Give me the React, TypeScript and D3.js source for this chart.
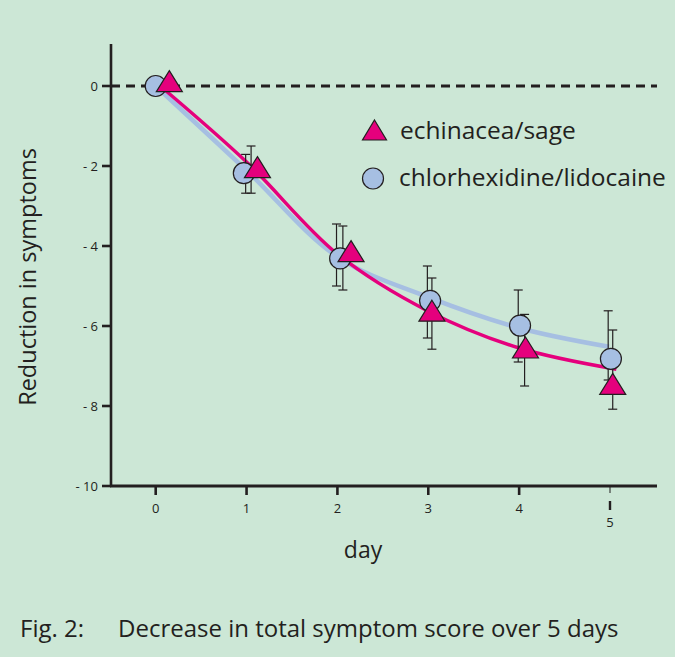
import * as d3 from 'd3';
import React, { useEffect, useRef } from 'react';

// tick labels
const xTicks = [0, 1, 2, 3, 4, 5];
const yTicks = [0, -2, -4, -6, -8, -10];
const yTickLabels = ['0', '- 2', '- 4', '- 6', '- 8', '- 10'];

// fitted curves
const echLineDays = [0.05, 1, 2, 3, 4, 5.07];
const echLineVals = [0, -1.9, -4.2, -5.63, -6.55, -7.08];
const chlLineDays = [0, 1, 2, 3, 4, 4.99];
const chlLineVals = [0, -2.11, -4.27, -5.28, -6.05, -6.52];

// markers (echinacea/sage = triangles)
const echDays = [0.15, 1.12, 2.15, 3.04, 4.07, 5.03];
const echVals = [0.11, -2.04, -4.14, -5.63, -6.55, -7.46];
const echBarDays = [1.05, 2.06, 3.04, 4.06, 5.03];
const echHi = [-1.5, -3.5, -4.8, -5.71, -6.1];
const echLo = [-2.68, -5.1, -6.58, -7.5, -8.08];

// markers (chlorhexidine/lidocaine = circles)
const chlDays = [0, 0.97, 2.03, 3.02, 4.01, 5.01];
const chlVals = [0, -2.18, -4.31, -5.37, -5.99, -6.82];
const chlBarDays = [0.99, 1.99, 2.99, 3.99, 4.98];
const chlHi = [-1.71, -3.45, -4.5, -5.1, -5.62];
const chlLo = [-2.68, -5.0, -6.3, -6.9, -7.35];

const MAGENTA = '#e5007d';
const BLUE = '#a6bfe2';
const BG = '#cce7d6';
const INK = '#231f20';
const FONT = '"Open Sans", sans-serif';

function App() {
    const ref = useRef(null);

    useEffect(() => {
        const svg = d3.select(ref.current);
        svg.selectAll('*').remove();

        const x = d3.scaleLinear().domain([0, 5]).range([155.7, 610]);
        const y = d3.scaleLinear().domain([-10, 0]).range([486, 86]);

        svg.append('rect').attr('width', 675).attr('height', 657).attr('fill', BG);

        // zero reference line
        svg.append('line')
            .attr('x1', 111).attr('x2', 657)
            .attr('y1', y(0)).attr('y2', y(0))
            .attr('stroke', INK).attr('stroke-width', 2.8)
            .attr('stroke-dasharray', '9,6');

        // axes
        svg.append('line')
            .attr('x1', 111).attr('x2', 111)
            .attr('y1', y(1.05)).attr('y2', y(-10) + 1)
            .attr('stroke', INK).attr('stroke-width', 2.6);
        svg.append('line')
            .attr('x1', 110).attr('x2', 657)
            .attr('y1', y(-10)).attr('y2', y(-10))
            .attr('stroke', INK).attr('stroke-width', 2.8);

        svg.selectAll('.ytick').data(yTicks).join('line')
            .attr('class', 'ytick')
            .attr('x1', 102).attr('x2', 111)
            .attr('y1', d => y(d)).attr('y2', d => y(d))
            .attr('stroke', INK).attr('stroke-width', 2.6);
        svg.selectAll('.ylab').data(yTicks).join('text')
            .attr('class', 'ylab')
            .attr('x', 98).attr('y', d => y(d))
            .attr('dy', '0.35em')
            .attr('text-anchor', 'end')
            .attr('font-family', FONT).attr('font-size', 13)
            .attr('fill', INK)
            .text((d, i) => yTickLabels[i]);

        const xMain = xTicks.slice(0, 5);
        svg.selectAll('.xtick').data(xMain).join('line')
            .attr('class', 'xtick')
            .attr('x1', d => x(d)).attr('x2', d => x(d))
            .attr('y1', y(-10)).attr('y2', y(-10) + 9)
            .attr('stroke', INK).attr('stroke-width', 2.6);
        svg.selectAll('.xlab').data(xMain).join('text')
            .attr('class', 'xlab')
            .attr('x', d => x(d)).attr('y', 508)
            .attr('dy', '0.35em')
            .attr('text-anchor', 'middle')
            .attr('font-family', FONT).attr('font-size', 13)
            .attr('fill', INK)
            .text(d => d);
        // the odd last tick
        const x5 = x(xTicks[5]);
        svg.append('line')
            .attr('x1', x5).attr('x2', x5)
            .attr('y1', y(-10)).attr('y2', y(-10) + 7)
            .attr('stroke', INK).attr('stroke-width', 1);
        svg.append('line')
            .attr('x1', x5).attr('x2', x5)
            .attr('y1', 501).attr('y2', 510)
            .attr('stroke', INK).attr('stroke-width', 2.4);
        svg.append('text')
            .attr('x', x5).attr('y', 522)
            .attr('dy', '0.35em')
            .attr('text-anchor', 'middle')
            .attr('font-family', FONT).attr('font-size', 13)
            .attr('fill', INK)
            .text(xTicks[5]);

        // axis titles
        svg.append('text')
            .attr('transform', 'translate(36,277) rotate(-90)')
            .attr('text-anchor', 'middle')
            .attr('font-family', FONT).attr('font-size', 23.5)
            .attr('fill', INK)
            .text('Reduction in symptoms');
        svg.append('text')
            .attr('x', 363).attr('y', 558)
            .attr('text-anchor', 'middle')
            .attr('font-family', FONT).attr('font-size', 23)
            .attr('fill', INK)
            .text('day');

        // curves
        const line = d3.line().curve(d3.curveCatmullRom.alpha(0.5));
        svg.append('path')
            .attr('d', line(chlLineDays.map((d, i) => [x(d), y(chlLineVals[i])])))
            .attr('fill', 'none').attr('stroke', BLUE).attr('stroke-width', 4.5);
        svg.append('path')
            .attr('d', line(echLineDays.map((d, i) => [x(d), y(echLineVals[i])])))
            .attr('fill', 'none').attr('stroke', MAGENTA).attr('stroke-width', 3.5);

        // error bars
        const bars = (days, hi, lo, cls) => {
            const g = svg.append('g').attr('class', cls);
            days.forEach((d, i) => {
                const cx = x(d);
                g.append('line').attr('x1', cx).attr('x2', cx)
                    .attr('y1', y(hi[i])).attr('y2', y(lo[i]))
                    .attr('stroke', INK).attr('stroke-width', 1.2);
                [hi[i], lo[i]].forEach(v => {
                    g.append('line').attr('x1', cx - 4.5).attr('x2', cx + 4.5)
                        .attr('y1', y(v)).attr('y2', y(v))
                        .attr('stroke', INK).attr('stroke-width', 1.2);
                });
            });
        };
        bars(chlBarDays, chlHi, chlLo, 'chl-bars');
        bars(echBarDays, echHi, echLo, 'ech-bars');

        // markers
        const tri = 'M0,-11 L13,10 L-13,10 Z';
        svg.selectAll('.chl').data(chlDays).join('circle')
            .attr('class', 'chl')
            .attr('cx', d => x(d))
            .attr('cy', (d, i) => y(chlVals[i]))
            .attr('r', 10.5)
            .attr('fill', BLUE).attr('stroke', INK).attr('stroke-width', 1.2);
        svg.selectAll('.ech').data(echDays).join('path')
            .attr('class', 'ech')
            .attr('d', tri)
            .attr('transform', (d, i) => `translate(${x(d)},${y(echVals[i])})`)
            .attr('fill', MAGENTA).attr('stroke', INK).attr('stroke-width', 1.2);

        // legend
        svg.append('path').attr('d', 'M0,-10 L12,10 L-12,10 Z')
            .attr('transform', 'translate(374.5,130)')
            .attr('fill', MAGENTA).attr('stroke', INK).attr('stroke-width', 1.2);
        svg.append('text')
            .attr('x', 400).attr('y', 139)
            .attr('font-family', FONT).attr('font-size', 24.5)
            .attr('fill', INK)
            .text('echinacea/sage');
        svg.append('circle')
            .attr('cx', 373).attr('cy', 178.5).attr('r', 10.5)
            .attr('fill', BLUE).attr('stroke', INK).attr('stroke-width', 1.2);
        svg.append('text')
            .attr('x', 399).attr('y', 186)
            .attr('font-family', FONT).attr('font-size', 24.5)
            .attr('fill', INK)
            .text('chlorhexidine/lidocaine');

        // caption
        svg.append('text')
            .attr('x', 20).attr('y', 637)
            .attr('font-family', FONT).attr('font-size', 24)
            .attr('fill', INK)
            .text('Fig. 2:');
        svg.append('text')
            .attr('x', 118).attr('y', 637)
            .attr('font-family', FONT).attr('font-size', 24)
            .attr('fill', INK)
            .text('Decrease in total symptom score over 5 days');
    }, []);

    return (
        <svg ref={ref} width={675} height={657}
            style={{ position: 'absolute', left: 0, top: 0, display: 'block' }} />
    );
}

export default App;
